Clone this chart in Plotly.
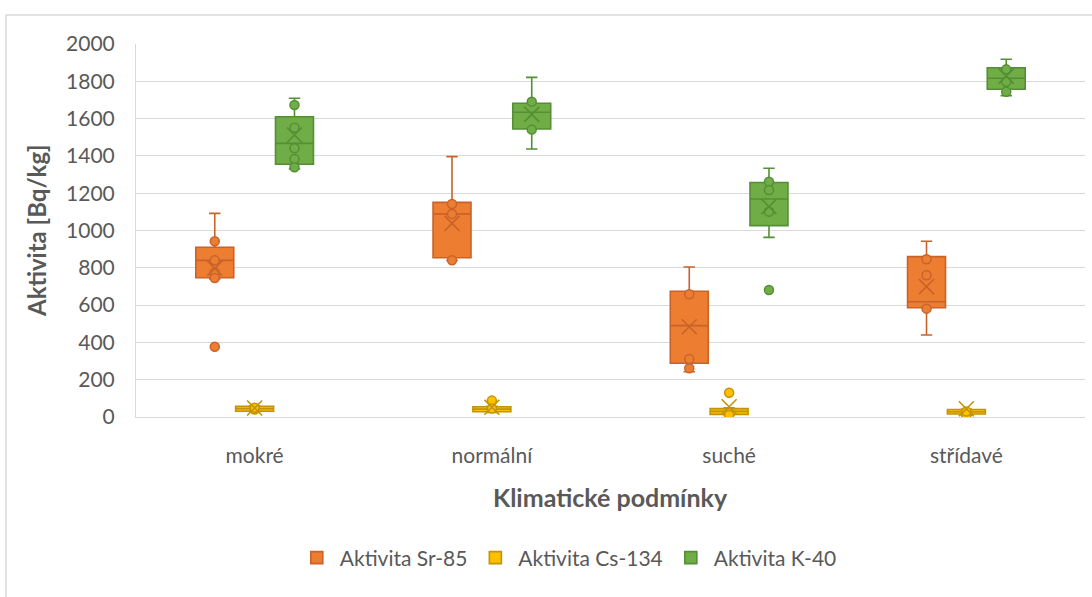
import plotly.graph_objects as go

# ---------------- data ----------------
categories = ["mokré", "normální", "suché", "střídavé"]

series_names = ["Aktivita Sr-85", "Aktivita Cs-134", "Aktivita K-40"]

sr_q1 = [747, 854, 288, 586]
sr_median = [840, 1089, 490, 618]
sr_q3 = [910, 1151, 674, 860]
sr_lower = [740, 840, 243, 440]
sr_upper = [1092, 1396, 804, 942]
sr_mean = [797, 1038, 484, 699]
sr_points = [[942, 840, 775, 745, 377], [1142, 1089, 840], [658, 311, 261], [846, 760, 581]]

cs_q1 = [31, 28, 14, 16]
cs_median = [45, 42, 30, 28]
cs_q3 = [58, 55, 45, 40]
cs_lower = [28, 25, 10, 10]
cs_upper = [60, 58, 50, 42]
cs_mean = [48, 52, 55, 44]
cs_points = [[40, 50], [88, 45], [130, 11], [6, 30]]

k_q1 = [1355, 1544, 1026, 1757]
k_median = [1467, 1634, 1169, 1816]
k_q3 = [1610, 1682, 1257, 1873]
k_lower = [1330, 1437, 963, 1723]
k_upper = [1709, 1821, 1334, 1918]
k_mean = [1512, 1623, 1128, 1828]
k_points = [[1673, 1551, 1441, 1383, 1339], [1691, 1541], [1262, 1217, 1101, 681], [1864, 1798, 1744]]

y_ticks = [0, 200, 400, 600, 800, 1000, 1200, 1400, 1600, 1800, 2000]

# ---------------- style ----------------
fills = ["#ED7D31", "#FFC000", "#70AD47"]
edges = ["#C8632A", "#C29406", "#548F35"]
offsets = [-0.168, 0.0, 0.168]
box_w = 0.16
FONT = "Lato, 'Open Sans', sans-serif"
GREY = "#595959"

stats = [
    (sr_q1, sr_median, sr_q3, sr_lower, sr_upper, sr_mean, sr_points),
    (cs_q1, cs_median, cs_q3, cs_lower, cs_upper, cs_mean, cs_points),
    (k_q1, k_median, k_q3, k_lower, k_upper, k_mean, k_points),
]

fig = go.Figure()
idx = list(range(len(categories)))

for s, (q1, med, q3, lo, hi, mean, pts) in enumerate(stats):
    xs = [i + offsets[s] for i in idx]
    fig.add_trace(go.Box(
        name=series_names[s], x=xs, q1=q1, median=med, q3=q3,
        lowerfence=lo, upperfence=hi, width=box_w, whiskerwidth=0.3,
        fillcolor=fills[s], line=dict(color=edges[s], width=1.6),
        boxpoints=False, hoverinfo="skip", legendgroup=str(s), showlegend=True,
    ))
    px, py = [], []
    for i in idx:
        for v in pts[i]:
            px.append(i + offsets[s])
            py.append(v)
    fig.add_trace(go.Scatter(
        x=px, y=py, mode="markers", showlegend=False, legendgroup=str(s),
        marker=dict(symbol="circle", size=9, color=fills[s], line=dict(color=edges[s], width=1.5)),
        hoverinfo="skip",
    ))
    fig.add_trace(go.Scatter(
        x=xs, y=mean, mode="markers", showlegend=False, legendgroup=str(s),
        marker=dict(symbol="x-thin-open", size=15, color=edges[s], line=dict(color=edges[s], width=1.6)),
        hoverinfo="skip",
    ))

fig.update_layout(
    width=1092, height=597,
    margin=dict(l=136, r=7, t=44, b=180),
    paper_bgcolor="white", plot_bgcolor="white",
    font=dict(family=FONT, size=21, color=GREY),
    showlegend=True,
    legend=dict(orientation="h", x=0.455, xanchor="center", y=-0.378, yanchor="middle",
                font=dict(size=21, color=GREY), traceorder="normal", itemwidth=36),
    xaxis=dict(range=[-0.5, 3.5], tickvals=idx, ticktext=categories, showgrid=False,
               zeroline=False, showline=True, linecolor="#d9d9d9", linewidth=1,
               ticks="", ticklabelstandoff=20, tickfont=dict(size=21, color=GREY)),
    yaxis=dict(range=[0, 2000], tickvals=y_ticks, showgrid=True, gridcolor="#d9d9d9",
               gridwidth=1, zeroline=False, showline=True, linecolor="#d9d9d9", linewidth=1,
               ticks="", ticklabelstandoff=16, tickfont=dict(size=21, color=GREY)),
    annotations=[
        dict(text="<b>Klimatické podmínky</b>", xref="paper", yref="paper", x=0.5, y=-0.2145,
             xanchor="center", yanchor="middle", showarrow=False, font=dict(size=25, color=GREY)),
        dict(text="<b>Aktivita [Bq/kg]</b>", xref="paper", yref="paper", x=-0.1043, y=0.4987,
             xanchor="center", yanchor="middle", textangle=-90, showarrow=False,
             font=dict(size=24, color=GREY)),
    ],
    shapes=[
        dict(type="rect", xref="paper", yref="paper", x0=-0.137, x1=1.02, y0=-0.6, y1=1.0777,
             line=dict(color="#d9d9d9", width=1.5), fillcolor="rgba(0,0,0,0)", layer="below"),
    ],
)

fig.write_html("out.html", config={"displayModeBar": False},
               post_script="document.body.style.margin='0';")
